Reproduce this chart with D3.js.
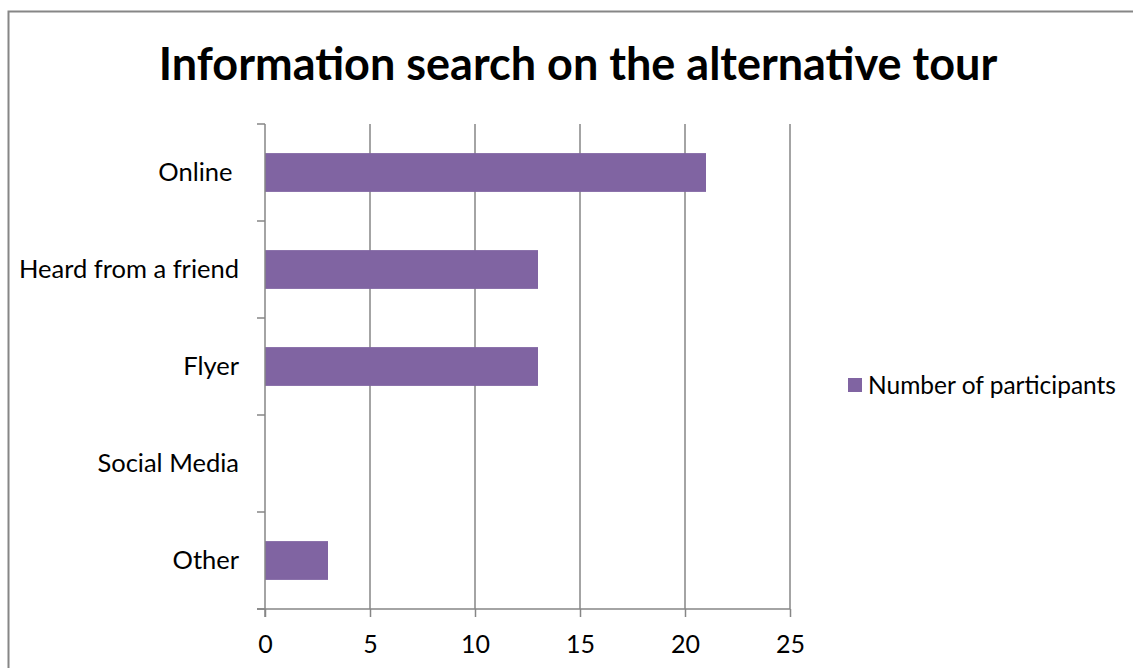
<!DOCTYPE html>
<html><head><meta charset="utf-8">
<script src="https://cdn.jsdelivr.net/npm/d3@7"></script>
<style>body{margin:0;background:#fff;} svg{display:block;} text{font-family:Lato,"Open Sans",sans-serif;white-space:pre;}</style>
</head><body>
<svg id="c" width="1133" height="668"></svg>
<script>
const categories = ["Online ", "Heard from a friend", "Flyer", "Social Media", "Other"];
const values = [21, 13, 13, 0, 3];
const xTicks = [0, 5, 10, 15, 20, 25];
const seriesName = "Number of participants";
const title = "Information search on the alternative tour";

const svg = d3.select("#c");
const color = "#8064A2", gridColor = "#868686";
svg.append("rect").attr("x", 8.5).attr("y", 11.5).attr("width", 1140).attr("height", 700)
  .attr("fill", "#fff").attr("stroke", "#868686").attr("stroke-width", 2);

svg.append("text").attr("x", 578).attr("y", 80).attr("text-anchor", "middle")
  .attr("font-size", 45).attr("font-weight", "bold").attr("fill", "#000").text(title);

const L = 265, R = 790, T = 124, B = 609;
const x = d3.scaleLinear().domain([0, 25]).range([L, R]);
const y = d3.scaleBand().domain(categories).range([T, B]).paddingInner(0.6).paddingOuter(0.3);
const yb = d3.scaleBand().domain(categories).range([T, B]);

// gridlines
svg.append("g").selectAll("line").data(xTicks.slice(1)).join("line")
  .attr("x1", d => x(d)).attr("x2", d => x(d)).attr("y1", T).attr("y2", B)
  .attr("stroke", gridColor).attr("stroke-width", 1.5);

// bars
svg.append("g").selectAll("rect").data(values).join("rect")
  .attr("x", x(0)).attr("y", (d, i) => y(categories[i])).attr("height", y.bandwidth())
  .attr("width", d => x(d) - x(0)).attr("fill", color);

// x axis
const xa = svg.append("g").attr("transform", `translate(0,${B})`)
  .call(d3.axisBottom(x).tickValues(xTicks).tickSize(8).tickPadding(18));
xa.select(".domain").attr("stroke", gridColor).attr("stroke-width", 1.5).attr("d", `M${L-8},0H${R}`);
xa.selectAll(".tick line").attr("stroke", gridColor).attr("stroke-width", 1.5);
xa.selectAll("text").attr("font-size", 25).attr("fill", "#000").attr("font-family", "Lato");

// y axis
const ya = svg.append("g").attr("transform", `translate(${L},0)`);
ya.append("line").attr("x1", 0).attr("x2", 0).attr("y1", T).attr("y2", B + 8)
  .attr("stroke", gridColor).attr("stroke-width", 1.5);
const edges = categories.map(c => yb(c)).concat([B]);
ya.selectAll("line.t").data(edges).join("line").attr("class", "t")
  .attr("x1", -8).attr("x2", 0).attr("y1", d => d).attr("y2", d => d)
  .attr("stroke", gridColor).attr("stroke-width", 1.5);
ya.selectAll("text").data(categories).join("text")
  .attr("x", -26).attr("y", d => yb(d) + yb.bandwidth() / 2).attr("dy", "0.35em")
  .attr("text-anchor", "end").attr("font-size", 25.5).attr("fill", "#000").text(d => d);

// legend
const lg = svg.append("g").attr("transform", "translate(848,378)");
lg.append("rect").attr("width", 14).attr("height", 14).attr("fill", color);
lg.append("text").attr("x", 20).attr("y", 7).attr("dy", "0.35em").attr("font-size", 24.5).attr("fill", "#000").text(seriesName);
</script>
</body></html>
